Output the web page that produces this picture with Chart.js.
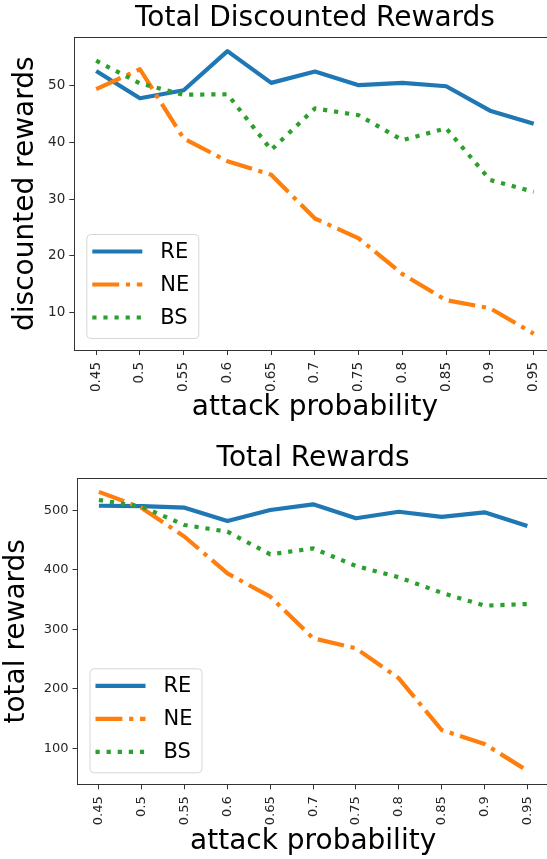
<!DOCTYPE html>
<html>
<head>
<meta charset="utf-8">
<script src="https://cdn.jsdelivr.net/npm/chart.js@4.4.1/dist/chart.umd.min.js"></script>
<style>
  html, body { margin: 0; padding: 0; background: #fff; overflow: hidden; }
  #wrap { width: 547px; height: 859px; overflow: hidden; position: relative; }
  canvas { display: block; }
</style>
</head>
<body>
<div id="wrap">
  <canvas id="discChart" width="557" height="430"></canvas>
  <canvas id="totalChart" width="550" height="429"></canvas>
</div>
<script>
// attack probabilities on the x axis
const attackProb = ['0.45', '0.5', '0.55', '0.6', '0.65', '0.7', '0.75', '0.8', '0.85', '0.9', '0.95'];

// total discounted rewards
const discRE = [52.6, 47.8, 49.2, 56.1, 50.5, 52.5, 50.1, 50.5, 49.9, 45.6, 43.3];
const discNE = [49.4, 52.9, 40.7, 36.7, 34.3, 26.6, 23.1, 16.8, 12.2, 10.8, 6.3];
const discBS = [54.4, 50.4, 48.4, 48.5, 38.7, 46.0, 44.8, 40.4, 42.5, 33.4, 31.3];
const discTicks = [10, 20, 30, 40, 50];

// total rewards
const totRE = [507.7, 507, 504.4, 482, 500.5, 510, 486.6, 497.6, 489, 496.6, 473.6];
const totNE = [531, 504, 455.6, 394, 354.8, 284.9, 268, 217.6, 130.8, 107.3, 62.4];
const totBS = [517.3, 506, 475.3, 464, 426, 436, 406.4, 387.4, 361.5, 339.7, 342.5];
const totTicks = [100, 200, 300, 400, 500];

const FONT = 'DejaVu Sans';
const LW = 4.2;

// legend box in lower left of plot + top spine
const mplLegend = {
  id: 'mplLegend',
  afterDraw(chart) {
    const ctx = chart.ctx;
    const ca = chart.chartArea;
    ctx.save();
    ctx.strokeStyle = '#333';
    ctx.lineWidth = 1;
    ctx.beginPath();
    ctx.moveTo(ca.left, Math.round(ca.top) + 0.5);
    ctx.lineTo(ca.right, Math.round(ca.top) + 0.5);
    ctx.stroke();

    const w = 112, h = 104;
    const bx = ca.left + 12, by = ca.bottom - 12 - h;
    ctx.beginPath();
    ctx.roundRect(bx + 0.5, by + 0.5, w, h, 4);
    ctx.fillStyle = 'rgba(255,255,255,0.8)';
    ctx.fill();
    ctx.strokeStyle = '#d6d6d6';
    ctx.stroke();

    chart.data.datasets.forEach((ds, i) => {
      const y = by + 17.5 + i * 33;
      ctx.beginPath();
      ctx.setLineDash(ds.borderDash || []);
      ctx.lineCap = 'butt';
      ctx.strokeStyle = ds.borderColor;
      ctx.lineWidth = LW;
      ctx.moveTo(bx + 6, y);
      ctx.lineTo(bx + 56, y);
      ctx.stroke();
      ctx.setLineDash([]);
      ctx.fillStyle = '#000';
      ctx.font = '21px "' + FONT + '"';
      ctx.textBaseline = 'middle';
      ctx.textAlign = 'left';
      ctx.fillText(ds.label, bx + 74, y + 1);
    });
    ctx.restore();
  }
};

function makeChart(id, re, ne, bs, yTicks, cfg) {
  return new Chart(id, {
    type: 'line',
    data: {
      labels: attackProb,
      datasets: [
        { label: 'RE', data: re, borderColor: '#1f77b4', borderWidth: LW, borderDash: [], order: 2 },
        { label: 'NE', data: ne, borderColor: '#ff7f0e', borderWidth: LW, borderDash: [26.9, 6.7, 4.2, 6.7], order: 1 },
        { label: 'BS', data: bs, borderColor: '#2ca02c', borderWidth: LW, borderDash: [4.2, 6.9], order: 0 }
      ]
    },
    options: {
      responsive: false,
      animation: false,
      elements: {
        point: { radius: 0, hoverRadius: 0 },
        line: { tension: 0, borderJoinStyle: 'round', borderCapStyle: 'butt', fill: false }
      },
      layout: { padding: 0 },
      plugins: {
        legend: { display: false },
        tooltip: { enabled: false },
        title: {
          display: true,
          fullSize: false,
          text: cfg.title,
          color: '#000',
          font: { family: FONT, size: 28, weight: 'normal' },
          padding: cfg.titlePad
        }
      },
      scales: {
        x: {
          type: 'category',
          offset: true,
          afterFit: s => { s.height = cfg.xHeight; },
          grid: { display: true, drawOnChartArea: false, offset: false, tickLength: 5, color: '#333' },
          border: { color: '#333', width: 1 },
          ticks: {
            color: '#262626',
            font: { family: FONT, size: cfg.tickSize },
            minRotation: 90, maxRotation: 90,
            padding: 7,
            autoSkip: false
          },
          title: {
            display: true,
            text: 'attack probability',
            color: '#000',
            font: { family: FONT, size: 28 },
            padding: { top: 0, bottom: cfg.xTitlePad }
          }
        },
        y: {
          min: cfg.yMin, max: cfg.yMax,
          afterFit: s => { s.width = cfg.yWidth; },
          afterBuildTicks: s => { s.ticks = yTicks.map(v => ({ value: v })); },
          grid: { display: true, drawOnChartArea: false, tickLength: 5, color: '#333' },
          border: { color: '#333', width: 1 },
          ticks: {
            color: '#262626',
            font: { family: FONT, size: cfg.tickSize },
            padding: 4
          },
          title: {
            display: true,
            text: cfg.yTitle,
            color: '#000',
            font: { family: FONT, size: 28 },
            padding: { top: cfg.yTitlePad, bottom: 0 }
          }
        }
      }
    },
    plugins: [mplLegend]
  });
}

makeChart('discChart', discRE, discNE, discBS, discTicks, {
  title: 'Total Discounted Rewards',
  titlePad: { top: 1.8, bottom: 1.9 },
  yTitle: 'discounted rewards',
  yMin: 3.43, yMax: 58.53,
  yWidth: 74.3, xHeight: 80,
  tickSize: 13.5, xTitlePad: 5, yTitlePad: 8.5
});

makeChart('totalChart', totRE, totNE, totBS, totTicks, {
  title: 'Total Rewards',
  titlePad: { top: 11.8, bottom: 2.9 },
  yTitle: 'total rewards',
  yMin: 39.5, yMax: 553.8,
  yWidth: 77.5, xHeight: 74.7,
  tickSize: 13, xTitlePad: 0, yTitlePad: 0
});
</script>
</body>
</html>
